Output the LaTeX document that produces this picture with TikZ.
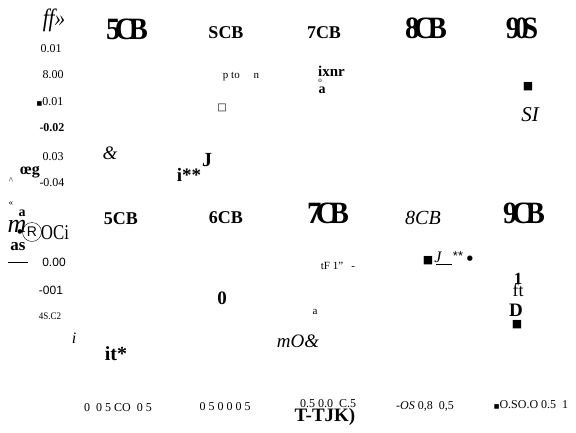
\documentclass[tikz,border=0pt]{standalone}
\usepackage{fontspec}
\setmainfont{Liberation Serif}
\setsansfont{Liberation Sans}
\newfontfamily\symfont{DejaVu Sans}
\newcommand{\fsz}[1]{\fontsize{#1}{#1}\selectfont}
\newcommand{\tightthree}[3]{#1\kern-6pt #2\kern-7pt #3}
\begin{document}
\begin{tikzpicture}[x=1pt,y=-1pt,
  txt/.style={inner sep=0pt},
  lbl/.style={inner sep=0pt,font=\fsz{12}},
  sml/.style={inner sep=0pt,font=\fsz{11}},
  hdr/.style={inner sep=0pt,font=\fsz{18}\bfseries},
  bigsq/.style={inner sep=0pt,font=\fsz{31}\bfseries,xscale=0.92}]
\useasboundingbox (0,0) rectangle (576,432);
% header row 1
\node[txt,font=\fsz{25}\itshape,xscale=0.85] (t0) at (54,20) {ff»};
\node[bigsq] (h1) at (127,29) {\tightthree{5}{C}{B}};
\node[hdr] (h2) at (226,33) {SCB};
\node[hdr] (h3) at (324,33) {7CB};
\node[bigsq] (h4) at (426,28) {\tightthree{8}{C}{B}};
\node[bigsq] (h5) at (522,28) {\tightthree{9}{0}{S}};
% left axis upper
\node[lbl] (y1) at (51,49) {0.01};
\node[lbl] (y2) at (53,75) {8.00};
\node[lbl] (y3) at (50,102) {{\symfont\fsz{6}■}0.01};
\node[lbl,font=\fsz{12}\bfseries] (y4) at (52,128) {-0.02};
\node[lbl] (y5) at (53,157) {0.03};
\node[txt,font=\fsz{9}] (c1) at (11,181) {\^{}};
\node[txt,font=\fsz{16}\bfseries] (c2) at (30,172) {œg};
\node[lbl] (y6) at (52,183) {-0.04};
% upper panel contents
\node[sml] (p1) at (241,77) {p to \quad n};
\node[txt,font=\fsz{10}\symfont] (p2) at (222,108) {□};
\node[txt,font=\fsz{15}\bfseries,anchor=west] (p3) at (318,71) {ixnr};
\node[txt,font=\fsz{7}] (p5) at (320,81) {o};
\node[txt,font=\fsz{14}\bfseries] (p6) at (322,90) {a};
\node[txt,font=\fsz{11}\symfont] (p7) at (528,87) {■};
\node[txt,font=\fsz{21}\itshape] (p8) at (530,115) {SI};
\node[txt,font=\fsz{19}\itshape] (p9) at (110,153) {\&};
\node[txt,font=\fsz{20}\bfseries] (p10) at (207,160) {J};
\node[txt,font=\fsz{19}\bfseries] (p11) at (189,175) {i**};
% left lower label
\node[txt,font=\fsz{9}] (c3) at (11,204) {«};
\node[txt,font=\fsz{26}\itshape] (c4) at (17,226) {m};
\node[txt,font=\fsz{14}\bfseries] (c5) at (22,213) {a};
\node[txt,font=\fsz{6}\symfont] (c6) at (20,232) {●};
\node[circle,draw,inner sep=0.8pt,minimum size=19pt,font=\fsz{14}\sffamily] (c7) at (32,232) {R};
\node[txt,font=\fsz{21},xscale=0.8] (c8) at (55,233) {OCi};
\node[txt,font=\fsz{17}\bfseries] (c9) at (18,247) {as};
\coordinate (ua) at (8,262);
\coordinate (ub) at (28,262);
\draw[line width=0.9pt] (ua) -- (ub);
% header row 2
\node[hdr] (g1) at (121,219) {5CB};
\node[hdr] (g2) at (226,218) {6CB};
\node[bigsq] (g3) at (328,213) {\tightthree{7}{C}{B}};
\node[txt,font=\fsz{20}\itshape] (g4) at (423,218) {8CB};
\node[bigsq] (g5) at (524,213) {\tightthree{9}{C}{B}};
% left axis lower
\node[lbl,font=\fsz{12}\sffamily] (z1) at (54,262) {0.00};
\node[lbl,font=\fsz{12}\sffamily] (z2) at (51,290) {-001};
\node[txt,font=\fsz{10},xscale=0.9] (z3) at (50,316) {4S.C2};
\node[txt,font=\fsz{16}\itshape] (z4) at (74,338) {i};
\node[txt,font=\fsz{20}\bfseries] (z5) at (116,354) {it*};
% lower panel contents
\node[sml] (q1) at (338,266) {tF 1" \enspace-};
\node[txt,font=\fsz{11}\symfont] (q2a) at (428,261) {■};
\node[txt,font=\fsz{16}\itshape] (q2b) at (438,257) {J};
\coordinate (q2c) at (436,264);
\coordinate (q2d) at (452,264);
\draw[line width=0.4pt] (q2c) -- (q2d);
\node[txt,font=\fsz{13}\sffamily] (q2e) at (458,256) {**};
\node[txt,font=\fsz{7}\symfont] (q2f) at (470,259) {●};
\node[txt,font=\fsz{17}\bfseries] (q3) at (518,279) {1};
\node[txt,font=\fsz{18}] (q4) at (518,290) {ft};
\node[txt,font=\fsz{19}\bfseries] (q5) at (222,298) {0};
\node[sml] (q6) at (315,312) {a};
\node[txt,font=\fsz{19}\bfseries] (q7) at (516,310) {D};
\node[txt,font=\fsz{11}\symfont] (q8) at (517,325) {■};
\node[txt,font=\fsz{19}\itshape] (q9) at (298,341) {mO\&};
% bottom axis
\node[sml,font=\fsz{12}] (b1) at (118,408) {0 \ 0 5 CO \ 0 5};
\node[sml,font=\fsz{12}] (b2) at (225,407) {0 5 0 0 0 5};
\node[sml,font=\fsz{12}] (b3) at (328,404) {0.5 0.0 \ C.5};
\node[sml,font=\fsz{12}] (b4) at (425,406) {\textit{-OS} 0,8 \ 0,5};
\node[sml,font=\fsz{12}] (b5) at (531,405) {{\symfont\fsz{6}■}O.SO.O 0.5 \ 1};
\node[txt,font=\fsz{19}\bfseries] (b6) at (325,417) {T-TJK)};
\end{tikzpicture}
\end{document}
